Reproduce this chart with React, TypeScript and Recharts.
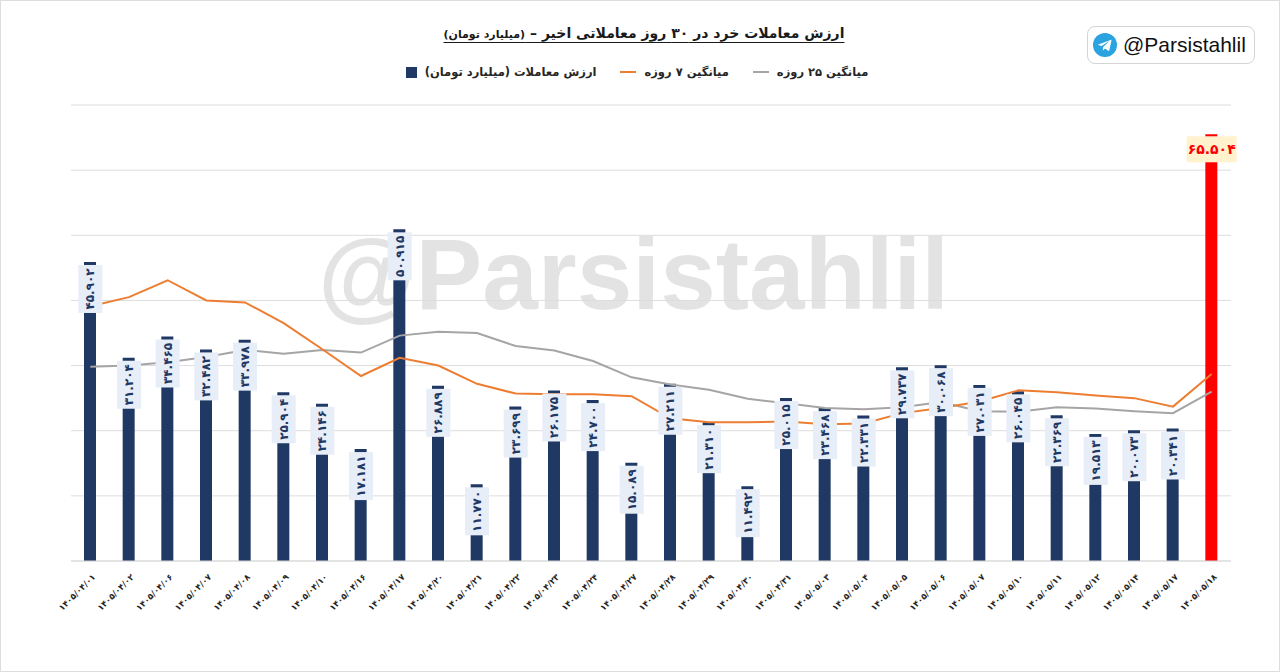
import { Bar, CartesianGrid, Cell, ComposedChart, LabelList, Line, XAxis, YAxis } from 'recharts'

const dates = [
  '۱۴۰۵/۰۴/۰۱', '۱۴۰۵/۰۴/۰۲', '۱۴۰۵/۰۴/۰۶', '۱۴۰۵/۰۴/۰۷', '۱۴۰۵/۰۴/۰۸',
  '۱۴۰۵/۰۴/۰۹', '۱۴۰۵/۰۴/۱۰', '۱۴۰۵/۰۴/۱۶', '۱۴۰۵/۰۴/۱۷', '۱۴۰۵/۰۴/۲۰',
  '۱۴۰۵/۰۴/۲۱', '۱۴۰۵/۰۴/۲۲', '۱۴۰۵/۰۴/۲۳', '۱۴۰۵/۰۴/۲۴', '۱۴۰۵/۰۴/۲۷',
  '۱۴۰۵/۰۴/۲۸', '۱۴۰۵/۰۴/۲۹', '۱۴۰۵/۰۴/۳۰', '۱۴۰۵/۰۴/۳۱', '۱۴۰۵/۰۵/۰۳',
  '۱۴۰۵/۰۵/۰۴', '۱۴۰۵/۰۵/۰۵', '۱۴۰۵/۰۵/۰۶', '۱۴۰۵/۰۵/۰۷', '۱۴۰۵/۰۵/۱۰',
  '۱۴۰۵/۰۵/۱۱', '۱۴۰۵/۰۵/۱۲', '۱۴۰۵/۰۵/۱۴', '۱۴۰۵/۰۵/۱۷', '۱۴۰۵/۰۵/۱۸',
]

// retail trade value, billion toman
const tradeValue = [
  45.902, 31.204, 34.465, 32.482, 33.978, 25.904, 24.146, 17.181, 50.915, 26.889,
  11.77, 23.699, 26.175, 24.7, 15.089, 27.211, 21.31, 11.492, 25.015, 23.468,
  22.331, 29.737, 30.068, 27.031, 26.045, 22.369, 19.513, 20.073, 20.341, 65.504,
]

const avg7 = [
  39.1, 40.5, 43.1, 40.0, 39.7, 36.5, 32.5, 28.4, 31.2, 30.0,
  27.2, 25.7, 25.6, 25.6, 25.3, 21.9, 21.3, 21.3, 21.4, 21.0,
  21.1, 22.7, 23.5, 24.5, 26.2, 25.9, 25.4, 25.0, 23.7, 28.7,
]

const avg25 = [
  29.8, 30.0, 30.5, 31.3, 32.4, 31.8, 32.4, 32.0, 34.6, 35.2,
  35.0, 33.0, 32.3, 30.7, 28.2, 27.1, 26.3, 24.9, 24.2, 23.5,
  23.3, 23.6, 24.4, 23.0, 22.9, 23.6, 23.4, 23.0, 22.7, 26.0,
]

const yTicks = [0, 10, 20, 30, 40, 50, 60, 70]

const chartTitle = 'ارزش معاملات خرد در ۳۰ روز معاملاتی اخیر'
const titleUnit = '(میلیارد تومان)'
const legendNames = ['ارزش معاملات (میلیارد تومان)', 'میانگین ۷ روزه', 'میانگین ۲۵ روزه']
const handle = '@Parsistahlil'

const NAVY = '#1F3864'
const ORANGE = '#ED7D31'
const GRAY = '#A5A5A5'
const RED = '#FF0000'
const FA_FONT = '"DejaVu Sans", sans-serif'

const data = dates.map((date, i) => ({
  date,
  value: tradeValue[i],
  avg7: avg7[i],
  avg25: avg25[i],
}))

const faDigits = '۰۱۲۳۴۵۶۷۸۹'
const toFa = (s: string) => s.replace(/\d/g, (d) => faDigits[Number(d)])

const DateTick = (props: any) => {
  const { x, y, payload } = props
  return (
    <g transform={`translate(${x},${y})`}>
      <text
        x={0}
        y={0}
        dx={-2}
        dy={10}
        textAnchor="end"
        transform="rotate(-45)"
        fontSize={8.5}
        fontWeight="bold"
        fontFamily={FA_FONT}
        fill="#262626"
      >
        {payload.value}
      </text>
    </g>
  )
}

const ValueLabel = (props: any) => {
  const { x, y, value, index } = props
  const text = toFa(Number(value).toFixed(3))
  const last = index === dates.length - 1
  if (last) {
    return (
      <g>
        <rect x={x - 25} y={y + 2} width={50} height={26} fill="#FFF2CC" />
        <text
          x={x}
          y={y + 15}
          textAnchor="middle"
          dominantBaseline="central"
          fontSize={14}
          fontWeight="bold"
          fontFamily={FA_FONT}
          fill={RED}
        >
          {text}
        </text>
      </g>
    )
  }
  const h = 48
  return (
    <g>
      <rect x={x - 12} y={y + 3} width={24} height={h} fill="#E7EEF7" />
      <text
        transform={`translate(${x},${y + 3 + h / 2}) rotate(-90)`}
        textAnchor="middle"
        dominantBaseline="central"
        fontSize={12}
        fontWeight="bold"
        fontFamily={FA_FONT}
        fill={NAVY}
      >
        {text}
      </text>
    </g>
  )
}

const TelegramIcon = () => (
  <svg width={24} height={24} viewBox="0 0 24 24">
    <circle cx={12} cy={12} r={12} fill="#2AA3E0" />
    <path d="M5.5 11.6 L17.6 6.9 C18.2 6.7 18.6 7.1 18.4 7.8 L16.3 17.3 C16.2 17.9 15.7 18.1 15.2 17.8 L12 15.4 L10.5 16.9 C10.3 17.1 10.1 17.2 9.8 17.2 L10.1 13.9 L15.8 8.7 C16 8.5 15.8 8.4 15.5 8.6 L8.5 13 L5.4 12.1 C4.8 11.9 4.8 11.8 5.5 11.6 Z" fill="#fff" />
  </svg>
)

export default function App() {
  const markers = [
    <div style={{ width: 11, height: 11, background: NAVY }} />,
    <div style={{ width: 16, height: 2, background: ORANGE }} />,
    <div style={{ width: 16, height: 2, background: GRAY }} />,
  ]
  return (
    <div
      style={{
        position: 'absolute',
        left: 0,
        top: 0,
        width: 1280,
        height: 672,
        background: '#fff',
        overflow: 'hidden',
      }}
    >
      {/* watermark */}
      <div
        style={{
          position: 'absolute',
          left: 318,
          top: 224,
          fontSize: 100,
          lineHeight: 1,
          fontWeight: 'bold',
          fontFamily: '"Liberation Sans", Arial, sans-serif',
          color: 'rgba(0,0,0,0.11)',
          whiteSpace: 'nowrap',
        }}
      >
        {handle}
      </div>

      <div style={{ position: 'absolute', left: 0, top: 0 }}>
        <ComposedChart
          width={1280}
          height={672}
          data={data}
          margin={{ top: 105, right: 49, left: 71, bottom: 51 }}
        >
          <CartesianGrid vertical={false} stroke="#DDDDDD" />
          <YAxis hide domain={[0, 70]} ticks={yTicks} />
          <XAxis
            dataKey="date"
            interval={0}
            height={60}
            tickLine={false}
            axisLine={{ stroke: '#D9D9D9' }}
            tick={<DateTick />}
          />
          <Bar dataKey="value" barSize={12} fill={NAVY} isAnimationActive={false}>
            {data.map((d, i) => (
              <Cell key={d.date} fill={i === data.length - 1 ? RED : NAVY} />
            ))}
          </Bar>
          <Line
            dataKey="avg25"
            stroke={GRAY}
            strokeWidth={2}
            dot={false}
            isAnimationActive={false}
          />
          <Line
            dataKey="avg7"
            stroke={ORANGE}
            strokeWidth={2}
            dot={false}
            isAnimationActive={false}
          />
          {/* carrier for the data labels so they sit above the lines */}
          <Line
            dataKey="value"
            stroke="none"
            dot={false}
            activeDot={false}
            legendType="none"
            isAnimationActive={false}
          >
            <LabelList dataKey="value" content={<ValueLabel />} />
          </Line>
        </ComposedChart>
      </div>

      {/* title */}
      <div
        style={{
          position: 'absolute',
          left: 0,
          top: 23,
          width: 1288,
          textAlign: 'center',
          fontFamily: FA_FONT,
        }}
      >
        <span
          dir="rtl"
          style={{
            fontSize: 14,
            fontWeight: 'bold',
            color: '#1a1a1a',
            textDecoration: 'underline',
            textUnderlineOffset: 4,
          }}
        >
          {chartTitle} – <span style={{ fontSize: 11 }}>{titleUnit}</span>
        </span>
      </div>

      {/* legend */}
      <div
        style={{
          position: 'absolute',
          left: 0,
          top: 65,
          width: 1274,
          display: 'flex',
          justifyContent: 'center',
          gap: 24,
          fontFamily: FA_FONT,
          fontSize: 11.5,
          fontWeight: 'bold',
          color: '#262626',
        }}
      >
        {legendNames.map((name, i) => (
          <div key={name} style={{ display: 'flex', alignItems: 'center', gap: 8 }}>
            {markers[i]}
            <span dir="rtl">{name}</span>
          </div>
        ))}
      </div>

      {/* channel badge */}
      <div
        style={{
          position: 'absolute',
          left: 1087,
          top: 26,
          width: 168,
          height: 38,
          border: '1px solid #D4D4D4',
          borderRadius: 8,
          background: '#fff',
          display: 'flex',
          alignItems: 'center',
          gap: 6,
          paddingLeft: 5,
          boxSizing: 'border-box',
        }}
      >
        <TelegramIcon />
        <span
          style={{
            fontFamily: '"Liberation Sans", Arial, sans-serif',
            fontSize: 21,
            color: '#111',
          }}
        >
          {handle}
        </span>
      </div>

      {/* outer frame */}
      <div
        style={{
          position: 'absolute',
          left: 0,
          top: 0,
          width: 1278,
          height: 670,
          border: '1px solid #DDDDDD',
          pointerEvents: 'none',
        }}
      />
    </div>
  )
}
